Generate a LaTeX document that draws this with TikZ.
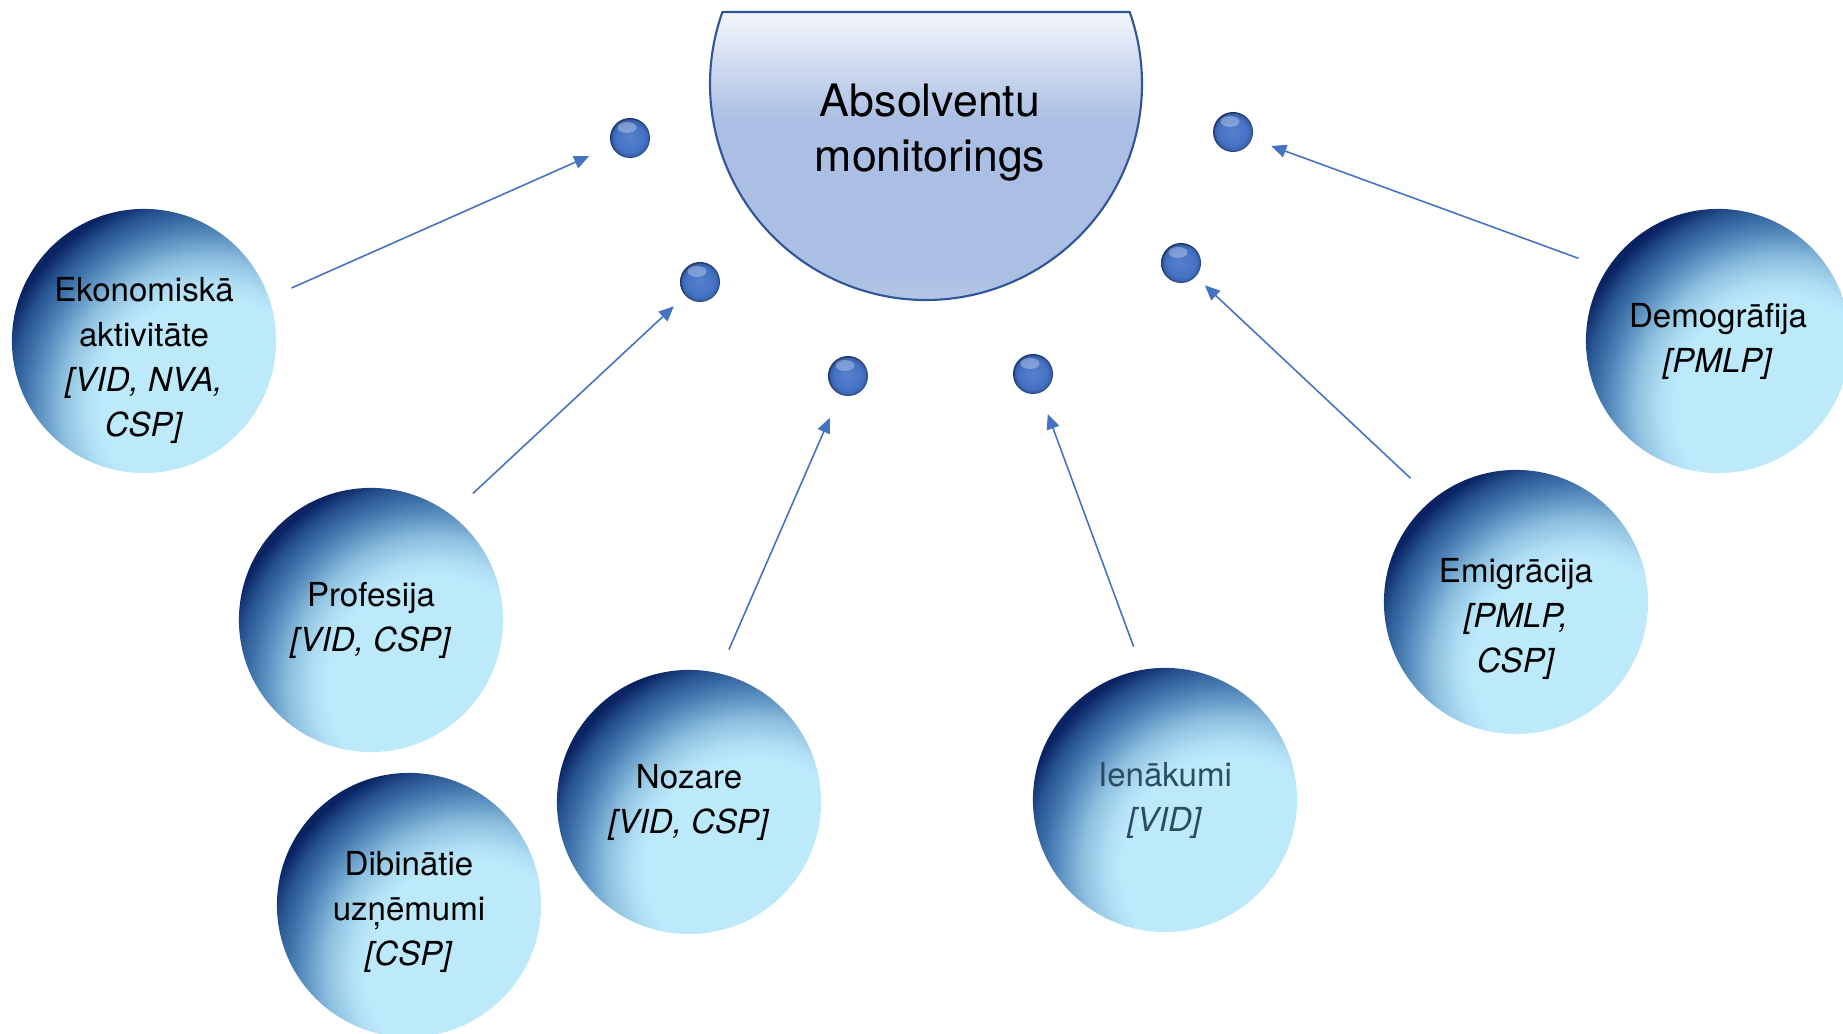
\documentclass[tikz,border=0pt]{standalone}
\usepackage{fontspec}
\setmainfont{TeX Gyre Heros}
\usetikzlibrary{arrows.meta}

\definecolor{capline}{HTML}{2F5597}
\definecolor{captop}{HTML}{F4F6FC}
\definecolor{capmid}{HTML}{ABBFE4}
\definecolor{capbot}{HTML}{C2CFEB}
\definecolor{bubdark}{HTML}{0A2463}
\definecolor{bubdeep}{HTML}{26528E}
\definecolor{bubmid}{HTML}{3D70A8}
\definecolor{bubsoft}{HTML}{5A8FC0}
\definecolor{bubpale}{HTML}{8FC2E0}
\definecolor{bubhaze}{HTML}{B0DEF4}
\definecolor{bublight}{HTML}{BDEAFB}
\definecolor{ballblue}{HTML}{4472C4}
\definecolor{ballrim}{HTML}{1A3260}
\definecolor{linkblue}{HTML}{4472C4}
\definecolor{incometext}{HTML}{2B4D61}

\pgfdeclareverticalshading{capshade}{100bp}{color(0bp)=(capbot); color(25bp)=(capbot); color(33bp)=(capmid); color(58bp)=(capmid); color(75bp)=(captop); color(100bp)=(captop)}
\pgfdeclareradialshading{bubshade}{\pgfpoint{0bp}{0bp}}{color(0bp)=(bublight); color(12bp)=(bublight); color(13.8bp)=(bubhaze); color(16.3bp)=(bubpale); color(19bp)=(bubsoft); color(20.7bp)=(bubmid); color(22.4bp)=(bubdeep); color(24.2bp)=(bubdark); color(50bp)=(bubdark)}
\pgfdeclareradialshading{beadshade}{\pgfpoint{0bp}{0bp}}{color(0bp)=(ballblue!90!white); color(18bp)=(ballblue); color(22.5bp)=(ballblue!75!ballrim); color(25bp)=(ballrim); color(50bp)=(ballrim)}

\tikzset{
  bubble/.style={circle, minimum size=2.64cm, inner sep=0pt,
    path picture={\shade[shading=bubshade] ([xshift=6.6mm, yshift=-6.6mm]path picture bounding box.center) circle (2.26cm);}},
  bubtext/.style={align=center, inner sep=0pt, font=\fontsize{9.4}{12.8}\selectfont},
  bead/.style={circle, minimum size=0.4cm, inner sep=0pt, shade, shading=beadshade,
    path picture={\fill[white, opacity=0.3] ([xshift=-0.3mm, yshift=1.05mm]path picture bounding box.center) ellipse (0.95mm and 0.55mm);}},
  link/.style={-{Triangle[length=1.5mm, width=1.3mm]}, linkblue, line width=0.45pt}
}

\begin{document}
\begin{tikzpicture}[x=0.01cm, y=0.01cm]
\useasboundingbox (0,0) rectangle (1843,1034);

% Central half-disc
\draw[capline, line width=0.6pt, shade, shading=capshade] (722.4,1022) arc[start angle=160.53, end angle=379.47, radius=216] -- cycle;
\node[align=center, font=\fontsize{12.7}{15.6}\selectfont] (title) at (930,901) {Absolventu\\monitorings};

% Data source circles
\node[bubble] (eko) at (144,693) {};
\node[bubble] (prof) at (371,414) {};
\node[bubble] (dib) at (409,129) {};
\node[bubble] (noz) at (689,232) {};
\node[bubble] (ien) at (1165,234) {};
\node[bubble] (emi) at (1516,432) {};
\node[bubble] (dem) at (1718,693) {};

\node[bubtext] (eko-txt) at ([yshift=-1.9mm]eko.center) {Ekonomiskā\\aktivitāte\\\textit{[VID, NVA,}\\\textit{CSP]}};
\node[bubtext] (prof-txt) at (prof.center) {Profesija\\\textit{[VID, CSP]}};
\node[bubtext] (dib-txt) at ([yshift=-0.7mm]dib.center) {Dibinātie\\uzņēmumi\\\textit{[CSP]}};
\node[bubtext] (noz-txt) at (noz.center) {Nozare\\\textit{[VID, CSP]}};
\node[bubtext, incometext] (ien-txt) at (ien.center) {Ienākumi\\\textit{[VID]}};
\node[bubtext] (emi-txt) at ([yshift=-1.7mm]emi.center) {Emigrācija\\\textit{[PMLP,}\\\textit{CSP]}};
\node[bubtext] (dem-txt) at (dem.center) {Demogrāfija\\\textit{[PMLP]}};

% Small spheres
\node[bead] (ba) at (630,896) {};
\node[bead] (bb) at (700,752) {};
\node[bead] (bc) at (848,658) {};
\node[bead] (bd) at (1033,660) {};
\node[bead] (be) at (1181,771) {};
\node[bead] (bf) at (1233,902) {};

% Arrows
\draw[link, shorten <=2.4mm, shorten >=2.4mm] (eko.19.5) -- (ba);
\draw[link, shorten <=3mm, shorten >=1.5mm] (prof.53.8) -- (bb);
\draw[link, shorten <=2.5mm, shorten >=2.5mm] (noz.77.9) -- (bc);
\draw[link, shorten <=2.4mm, shorten >=2.2mm] (ien.100.7) -- (bd);
\draw[link, shorten <=3mm, shorten >=1.2mm] (emi.129.8) -- (be);
\draw[link, shorten <=3mm, shorten >=2mm] (dem.147.6) -- (bf);
\end{tikzpicture}
\end{document}
